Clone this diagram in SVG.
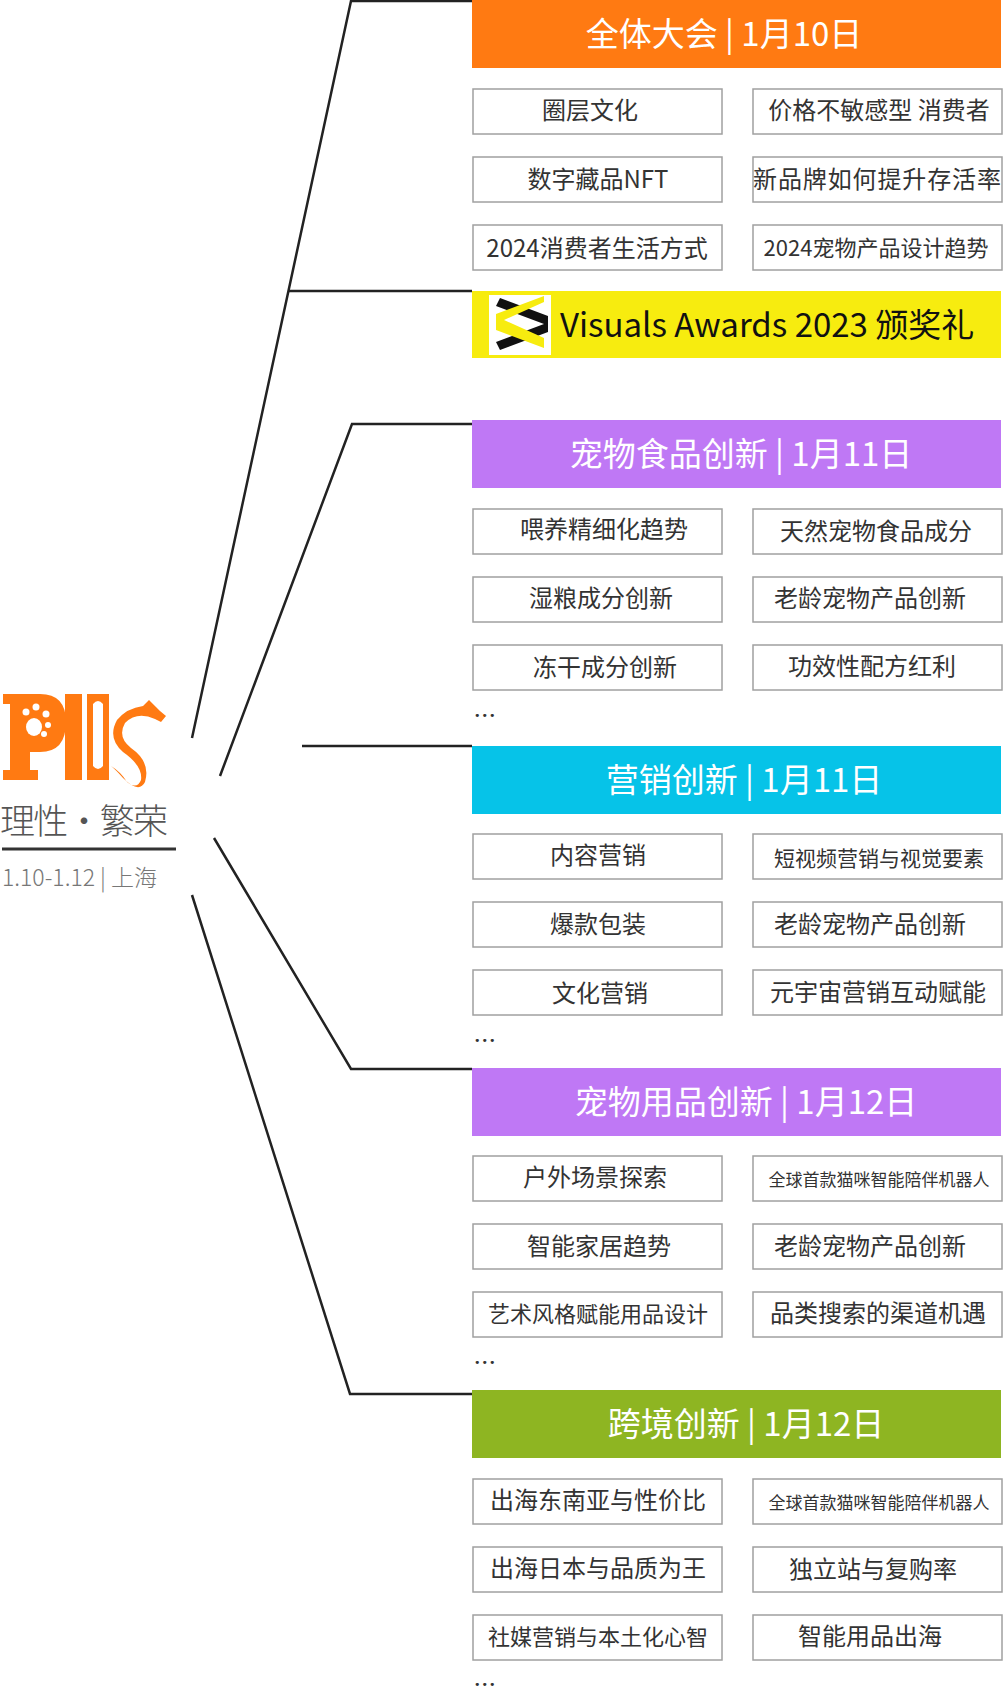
<svg xmlns="http://www.w3.org/2000/svg" width="1003" height="1690" viewBox="0 0 1003 1690">
<style>
.hd{font-family:"Noto Sans CJK SC","Noto Sans",sans-serif;font-size:33px;fill:#fff;text-anchor:middle}
.bx{fill:#fff;stroke:#a0a0a0;stroke-width:1.5}
.bt{font-family:"Noto Sans CJK SC","Noto Sans",sans-serif;font-size:24px;fill:#333;text-anchor:middle}
.dots{font-family:"DejaVu Sans",sans-serif;font-size:11px;fill:#333;letter-spacing:1px}
.cn{fill:none;stroke:#222;stroke-width:2.5}
</style>
<rect width="1003" height="1690" fill="#fff"/>
<g id="connectors" class="cn">
<polyline points="472,1 351,1 192,738"/>
<line x1="289" y1="291" x2="472" y2="291"/>
<polyline points="472,424 352,424 220,776"/>
<line x1="302" y1="746" x2="472" y2="746"/>
<polyline points="472,1069 351,1069 214,838"/>
<polyline points="472,1394 350,1394 192,895"/>
</g>
<g id="logo">
<path d="M3,694 H40 Q66,694 66,722 Q66,752 40,752 H30 V770 H38 V780 H3 V770 H10 V704 H3 Z" fill="#FF7A12"/>
<g fill="#fff"><ellipse cx="34" cy="727" rx="8" ry="9"/><circle cx="26" cy="712" r="3.5"/><circle cx="36" cy="707" r="3.5"/><circle cx="46" cy="714" r="3.5"/><circle cx="48" cy="725" r="3"/><circle cx="44" cy="734" r="3"/></g>
<rect x="65" y="694" width="17" height="86" fill="#FF7A12"/>
<rect x="87" y="694" width="22" height="86" fill="#FF7A12"/>
<path d="M93,704 q5,-6 10,0 v62 q-5,6 -10,0 z" fill="#fff"/>
<path d="M160,711 l6,5 -5,6 -6,-3 q-18,-8 -30,4 q-8,14 6,25 q20,14 14,34 q-6,12 -22,-4 q-7,-8 -12,-12 q10,6 16,16 q10,8 14,-2 q2,-14 -18,-28 q-16,-14 -6,-32 q10,-12 26,-14 l6,-6 z" fill="#FF7A12"/>
<text x="0" y="834" font-family="Noto Sans CJK SC,sans-serif" font-size="35" font-weight="300" fill="#555" textLength="168">理性·繁荣</text>
<line x1="2" y1="849" x2="176" y2="849" stroke="#333" stroke-width="3"/>
<text x="2" y="886" font-family="Noto Sans CJK SC,sans-serif" font-size="23" font-weight="300" fill="#777">1.10-1.12 | 上海</text>
</g>
<g id="h1"><rect x="472" y="0" width="529" height="68" fill="#FF7A12"/><text class="hd" x="724" y="46">全体大会 | 1月10日</text></g>
<g id="n1a"><rect class="bx" x="473" y="89" width="249" height="45"/><text class="bt" x="590" y="119">圈层文化</text></g>
<g id="n1b"><rect class="bx" x="753" y="89" width="249" height="45"/><text class="bt" x="879" y="119">价格不敏感型 消费者</text></g>
<g id="n1c"><rect class="bx" x="473" y="157" width="249" height="45"/><text class="bt" x="598" y="188">数字藏品NFT</text></g>
<g id="n1d"><rect class="bx" x="753" y="157" width="249" height="45"/><text class="bt" x="877" y="188" textLength="248">新品牌如何提升存活率</text></g>
<g id="n1e"><rect class="bx" x="473" y="225" width="249" height="45"/><text class="bt" x="597" y="257">2024消费者生活方式</text></g>
<g id="n1f"><rect class="bx" x="753" y="225" width="249" height="45"/><text class="bt" x="876" y="256" style="font-size:22px">2024宠物产品设计趋势</text></g>
<g id="award"><rect x="472" y="291" width="529" height="67" fill="#F7EC0F"/>
<rect x="489" y="295" width="62" height="60" fill="#fff"/>
<path d="M496,306 L544,324 L496,342 L500,350 L548,332 V316 L500,298 Z" fill="#111"/>
<path d="M544,302 L504,320 L544,338 L544,348 L496,330 V314 L544,296 Z" fill="#F7EC0F"/>
<text x="560" y="337" font-family="Noto Sans CJK SC,sans-serif" font-size="33" fill="#111">Visuals Awards 2023 颁奖礼</text></g>
<g id="h2"><rect x="472" y="420" width="529" height="68" fill="#BF78F5"/><text class="hd" x="741" y="466">宠物食品创新 | 1月11日</text></g>
<g id="n2a"><rect class="bx" x="473" y="509" width="249" height="45"/><text class="bt" x="604" y="538">喂养精细化趋势</text></g>
<g id="n2b"><rect class="bx" x="753" y="509" width="249" height="45"/><text class="bt" x="876" y="540">天然宠物食品成分</text></g>
<g id="n2c"><rect class="bx" x="473" y="577" width="249" height="45"/><text class="bt" x="601" y="607">湿粮成分创新</text></g>
<g id="n2d"><rect class="bx" x="753" y="577" width="249" height="45"/><text class="bt" x="870" y="607">老龄宠物产品创新</text></g>
<g id="n2e"><rect class="bx" x="473" y="645" width="249" height="45"/><text class="bt" x="605" y="676">冻干成分创新</text></g>
<g id="n2f"><rect class="bx" x="753" y="645" width="249" height="45"/><text class="bt" x="872" y="675">功效性配方红利</text></g>
<text class="dots" x="474" y="719">•••</text>
<g id="h3"><rect x="472" y="746" width="529" height="68" fill="#06C3E8"/><text class="hd" x="744" y="792">营销创新 | 1月11日</text></g>
<g id="n3a"><rect class="bx" x="473" y="834" width="249" height="45"/><text class="bt" x="598" y="864">内容营销</text></g>
<g id="n3b"><rect class="bx" x="753" y="834" width="249" height="45"/><text class="bt" x="879" y="866" style="font-size:21px">短视频营销与视觉要素</text></g>
<g id="n3c"><rect class="bx" x="473" y="902" width="249" height="45"/><text class="bt" x="598" y="933">爆款包装</text></g>
<g id="n3d"><rect class="bx" x="753" y="902" width="249" height="45"/><text class="bt" x="870" y="933">老龄宠物产品创新</text></g>
<g id="n3e"><rect class="bx" x="473" y="970" width="249" height="45"/><text class="bt" x="600" y="1002">文化营销</text></g>
<g id="n3f"><rect class="bx" x="753" y="970" width="249" height="45"/><text class="bt" x="878" y="1001">元宇宙营销互动赋能</text></g>
<text class="dots" x="474" y="1044">•••</text>
<g id="h4"><rect x="472" y="1068" width="529" height="68" fill="#BF78F5"/><text class="hd" x="746" y="1114">宠物用品创新 | 1月12日</text></g>
<g id="n4a"><rect class="bx" x="473" y="1156" width="249" height="45"/><text class="bt" x="595" y="1186">户外场景探索</text></g>
<g id="n4b"><rect class="bx" x="753" y="1156" width="249" height="45"/><text class="bt" x="879" y="1186" style="font-size:17px">全球首款猫咪智能陪伴机器人</text></g>
<g id="n4c"><rect class="bx" x="473" y="1224" width="249" height="45"/><text class="bt" x="599" y="1255">智能家居趋势</text></g>
<g id="n4d"><rect class="bx" x="753" y="1224" width="249" height="45"/><text class="bt" x="870" y="1255">老龄宠物产品创新</text></g>
<g id="n4e"><rect class="bx" x="473" y="1292" width="249" height="45"/><text class="bt" x="598" y="1322" style="font-size:22px">艺术风格赋能用品设计</text></g>
<g id="n4f"><rect class="bx" x="753" y="1292" width="249" height="45"/><text class="bt" x="878" y="1322">品类搜索的渠道机遇</text></g>
<text class="dots" x="474" y="1366">•••</text>
<g id="h5"><rect x="472" y="1390" width="529" height="68" fill="#8EB522"/><text class="hd" x="746" y="1436">跨境创新 | 1月12日</text></g>
<g id="n5a"><rect class="bx" x="473" y="1479" width="249" height="45"/><text class="bt" x="598" y="1509">出海东南亚与性价比</text></g>
<g id="n5b"><rect class="bx" x="753" y="1479" width="249" height="45"/><text class="bt" x="879" y="1509" style="font-size:17px">全球首款猫咪智能陪伴机器人</text></g>
<g id="n5c"><rect class="bx" x="473" y="1547" width="249" height="45"/><text class="bt" x="598" y="1577">出海日本与品质为王</text></g>
<g id="n5d"><rect class="bx" x="753" y="1547" width="249" height="45"/><text class="bt" x="873" y="1578">独立站与复购率</text></g>
<g id="n5e"><rect class="bx" x="473" y="1615" width="249" height="45"/><text class="bt" x="598" y="1645" style="font-size:22px">社媒营销与本土化心智</text></g>
<g id="n5f"><rect class="bx" x="753" y="1615" width="249" height="45"/><text class="bt" x="870" y="1645">智能用品出海</text></g>
<text class="dots" x="474" y="1688">•••</text>
</svg>
